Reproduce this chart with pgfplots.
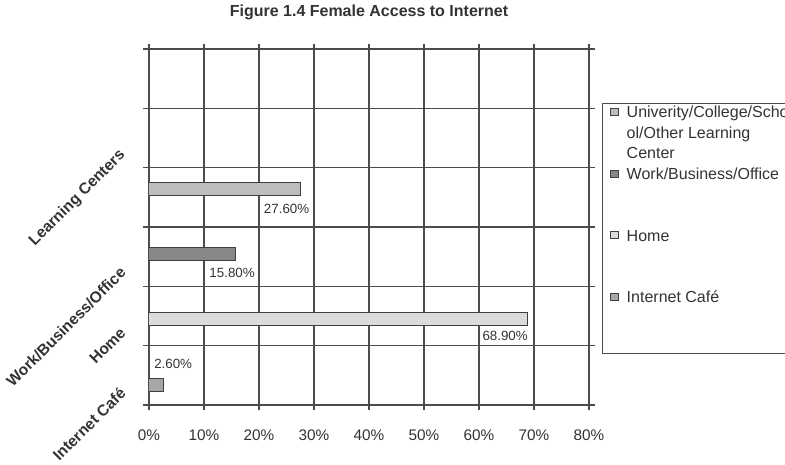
\documentclass[border=0pt]{standalone}
\usepackage{pgfplots}
\pgfplotsset{compat=1.18}
\usepackage{fontspec}
\setmainfont{Liberation Sans}

\definecolor{gridc}{gray}{0.30}
\definecolor{barline}{gray}{0.25}
\definecolor{lcfill}{gray}{0.74}
\definecolor{workfill}{gray}{0.53}
\definecolor{homefill}{gray}{0.86}
\definecolor{cafefill}{gray}{0.65}
\definecolor{txt}{gray}{0.20}

% every legend entry is three lines tall
\newcommand{\entry}[3]{\hspace*{6pt}\parbox[t]{150pt}{\strut #1\\\strut #2\\\strut #3}}

\begin{document}
\begin{tikzpicture}
\fill[white] (-111.75pt,-44.25pt) rectangle (477pt,303.75pt);
\begin{scope}
\clip (-111.75pt,-44.25pt) rectangle (477pt,303.75pt);
\begin{axis}[
  at={(0,0)}, anchor=south west,
  scale only axis, width=330pt, height=267pt,
  xbar, bar width=9.75pt, bar shift=0pt,
  legend image code/.code={\draw[#1, line width=0.7pt] (0pt,1.6pt) rectangle (5.5pt,7.1pt);},
  xmin=0, xmax=80, ymin=0, ymax=6,
  /pgf/number format/assume math mode=true,
  xtick={0,10,...,80},
  xticklabel={\pgfmathprintnumber{\tick}\%},
  xticklabel style={anchor=base, yshift=-22.5pt},
  ytick={0.25,1.26,2.28,4.25},
  yticklabels={Internet Café,Home,Work/Business/Office,Learning Centers},
  yticklabel style={font=\fontsize{11.7}{14}\selectfont\bfseries, text=txt,
    xshift=-15.75pt, rotate=45, anchor=east, inner sep=0pt},
  minor ytick={0,1,...,6},
  tick label style={font=\fontsize{11.5}{13}\selectfont, text=txt},
  tick align=outside,
  major tick length=3.75pt,
  minor tick length=4.5pt,
  major y tick style={draw=none},
  tick style={gridc, line width=0.8pt},
  xmajorgrids=true, ymajorgrids=false, yminorgrids=true,
  grid style={gridc, line width=0.8pt},
  minor grid style={gridc, line width=0.8pt},
  axis line style={gridc, line width=0.8pt},
  title={Figure 1.4 Female Access to Internet},
  title style={font=\fontsize{12}{14}\selectfont\bfseries, text=txt,
    at={(0.5,1)}, anchor=center, yshift=21.75pt},
  legend cell align=left,
  legend style={at={(1.0295,0.8483)}, anchor=north west,
    draw=gridc, line width=0.75pt, fill=white,
    inner xsep=6pt, inner ysep=0pt, row sep=0pt,
    cells={anchor=base west},
    font=\fontsize{12}{15.4}\selectfont, text=txt},
  point meta=x,
  nodes near coords={\pgfmathprintnumber[fixed,fixed zerofill,precision=2]{\pgfplotspointmeta}\%},
  every node near coord/.append style={font=\fontsize{10}{12}\selectfont, text=txt, anchor=center},
]
% University/College/School/Other Learning Center
\addplot[fill=lcfill, draw=barline, line width=0.75pt,
  every node near coord/.append style={xshift=-10.65pt, yshift=-15pt}]
  coordinates {(27.6,3.64)};
\addlegendentry[inner sep=0pt, text height=10.78pt, text depth=35.42pt]{\entry{Univerity/College/Scho}{ol/Other Learning}{Center}}
% Work/Business/Office
\addplot[fill=workfill, draw=barline, line width=0.75pt,
  every node near coord/.append style={xshift=-2.85pt, yshift=-13.9pt}]
  coordinates {(15.8,2.545)};
\addlegendentry[inner sep=0pt, text height=10.78pt, text depth=35.42pt]{\entry{Work/Business/Office}{}{}}
% Home
\addplot[fill=homefill, draw=barline, line width=0.75pt,
  every node near coord/.append style={xshift=-17.1pt, yshift=-12.75pt}]
  coordinates {(68.9,1.45)};
\addlegendentry[inner sep=0pt, text height=10.78pt, text depth=35.42pt]{\entry{Home}{}{}}
% Internet Cafe
\addplot[fill=cafefill, draw=barline, line width=0.75pt,
  every node near coord/.append style={xshift=7.4pt, yshift=16.1pt}]
  coordinates {(2.6,0.337)};
\addlegendentry[inner sep=0pt, text height=10.78pt, text depth=38.4pt]{\entry{Internet Café}{}{}}
\end{axis}
\end{scope}
\pgfresetboundingbox
\useasboundingbox (-111.75pt,-44.25pt) rectangle (477pt,303.75pt);
\end{tikzpicture}
\end{document}
